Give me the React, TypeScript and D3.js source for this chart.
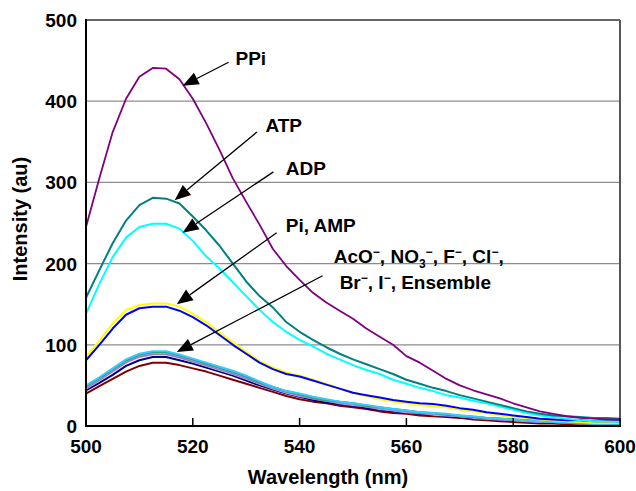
import React from "react";
import * as d3 from "d3";

const wavelengths = [500,502.5,505,507.5,510,512.5,515,517.5,520,522.5,525,527.5,530,532.5,535,537.5,540,542.5,545,547.5,550,552.5,555,557.5,560,562.5,565,567.5,570,572.5,575,577.5,580,582.5,585,587.5,590,592.5,595,597.5,600];

const ppi = [245,305,362,403,430,441,440,427,403,373,340,305,276,248,218,197,180,164,152,142,132,120,110,100,86,78,68,58,50,44,39,34,28,23,18,15,12,10,9,8,8];
const atp = [158,192,225,253,272,281,280,274,258,241,222,200,178,160,146,128,116,106,97,89,82,76,70,64,57,52,47,43,38,34,30,26,22,18,15,13,12,11,10,10,9];
const adp = [138,175,208,232,245,249,249,243,228,209,194,177,160,143,128,116,106,98,89,82,75,69,64,57,52,47,43,38,35,31,28,24,20,16,13,11,9,7,6,6,5];
const pi = [85,105,126,143,149,151,151,147,138,128,115,103,91,80,72,66,62,57,52,46,41,37,33,30,28,26,24,23,20,18,16,13,11,10,8,7,6,5,4,4,4];
const amp = [81,100,120,137,145,147,147,142,134,124,112,100,89,78,70,64,61,56,51,46,41,38,35,32,30,28,27,25,22,20,17,15,13,11,9,8,7,7,6,6,6];
const aco = [50,60,71,82,89,92,92,88,83,78,73,68,62,55,48,43,40,36,33,30,28,26,23,21,19,17,16,15,13,12,10,9,8,7,6,5,5,4,3,3,3];
const no3 = [49,59,70,81,88,91,91,87,82,77,72,67,61,54,48,43,39,35,32,30,28,25,23,21,19,17,16,14,13,11,10,9,8,7,6,5,4,4,3,3,2];
const fl = [48,58,69,80,87,90,90,86,81,76,71,66,60,54,48,43,39,35,32,29,27,25,22,20,18,17,15,14,12,11,10,9,8,7,6,5,4,4,3,3,3];
const cl = [47,57,68,79,86,89,89,85,80,75,70,65,59,53,47,42,38,34,31,29,27,24,22,20,18,16,15,14,12,11,10,9,8,7,6,5,4,3,3,3,2];
const br = [46,56,67,78,85,88,88,84,79,74,69,64,58,52,46,41,37,34,31,28,26,24,21,19,17,16,14,13,12,10,9,8,7,6,5,5,4,3,3,2,2];
const iodide = [44,53,63,74,81,85,85,81,77,72,67,62,56,50,45,40,36,32,29,27,25,22,20,18,17,15,14,12,11,10,9,8,7,6,5,4,4,3,3,2,2];
const ensemble = [40,49,58,67,74,78,78,75,71,67,62,57,52,47,42,37,33,30,28,25,23,21,18,16,15,13,12,11,10,8,7,6,5,4,3,3,2,2,2,1,1];

const seriesList = [
  { name: "Ensemble", values: ensemble, color: "#800000", w: 2 },
  { name: "I-", values: iodide, color: "#000080", w: 2 },
  { name: "Br-", values: br, color: "#CC99FF", w: 2 },
  { name: "Cl-", values: cl, color: "#808080", w: 2 },
  { name: "F-", values: fl, color: "#9999FF", w: 2 },
  { name: "NO3-", values: no3, color: "#339966", w: 2 },
  { name: "AcO-", values: aco, color: "#33CCFF", w: 2 },
  { name: "Pi", values: pi, color: "#FFFF00", w: 2 },
  { name: "AMP", values: amp, color: "#0000FF", w: 2 },
  { name: "ADP", values: adp, color: "#00FFFF", w: 2 },
  { name: "ATP", values: atp, color: "#008080", w: 2 },
  { name: "PPi", values: ppi, color: "#800080", w: 1.8 },
];

const xTicks = [500, 520, 540, 560, 580, 600];
const yTicks = [0, 100, 200, 300, 400, 500];

// annotations in data units
const annotations = [
  { key: "ppi", tx: 528, ty: 444, sx: 526.7, sy: 448, ex: 518.1, ey: 419 },
  { key: "atp", tx: 533.6, ty: 362, sx: 532, sy: 362, ex: 516.6, ey: 278 },
  { key: "adp", tx: 537.4, ty: 309, sx: 535.1, sy: 313, ex: 518.1, ey: 238 },
  { key: "pi", tx: 537.4, ty: 239, sx: 535.7, sy: 238, ex: 517, ey: 150 },
  { key: "anions", tx: 546.4, ty: 200.7, sx: 544.3, sy: 185, ex: 517, ey: 91 },
];

const FONT = "'Liberation Sans', Arial, Helvetica, sans-serif";

export default function App() {
  const W = 636, H = 491;
  const left = 86, right = 620, top = 20, bottom = 426;
  const x = d3.scaleLinear().domain([500, 600]).range([left, right]);
  const y = d3.scaleLinear().domain([0, 500]).range([bottom, top]);
  const line = d3.line<number>().x((_, i) => x(wavelengths[i])).y((v) => y(v));

  const arrow = (sx: number, sy: number, ex: number, ey: number) => {
    const x1 = x(sx), y1 = y(sy), x2 = x(ex), y2 = y(ey);
    const dx = x2 - x1, dy = y2 - y1;
    const len = Math.hypot(dx, dy);
    const ux = dx / len, uy = dy / len;
    const hl = 16, hw = 6.5;
    const bx = x2 - ux * hl, by = y2 - uy * hl;
    const px = -uy, py = ux;
    const pts = `${x2},${y2} ${bx + px * hw},${by + py * hw} ${bx - px * hw},${by - py * hw}`;
    return (
      <g>
        <line x1={x1} y1={y1} x2={bx} y2={by} stroke="#000" strokeWidth={1.3} />
        <polygon points={pts} fill="#000" />
      </g>
    );
  };

  const fs = 19;
  const sup = (t: string) => (
    <tspan dy={-7} fontSize={12}>{t}</tspan>
  );

  return (
    <svg width={W} height={H} style={{ position: "absolute", left: 0, top: 0, background: "#fff" }} fontFamily={FONT} fontWeight="bold">
      <rect x={0} y={0} width={W} height={H} fill="#fff" />
      {yTicks.filter((t) => t > 0 && t < 500).map((t) => (
        <line key={t} x1={left} x2={right} y1={y(t)} y2={y(t)} stroke="#8c8c8c" strokeWidth={1.2} />
      ))}
      <line x1={left} x2={right} y1={top} y2={top} stroke="#333" strokeWidth={1.6} />
      <line x1={right} x2={right} y1={top} y2={bottom} stroke="#555" strokeWidth={2} />
      {seriesList.map((s) => (
        <path key={s.name} d={line(s.values) || ""} fill="none" stroke={s.color} strokeWidth={s.w} strokeLinejoin="round" />
      ))}
      <line x1={left} x2={left} y1={top - 1} y2={bottom + 1} stroke="#000" strokeWidth={2} />
      <line x1={left - 1} x2={right + 1} y1={bottom} y2={bottom} stroke="#000" strokeWidth={2} />
      {xTicks.map((t) => (
        <g key={t}>
          <line x1={x(t)} x2={x(t)} y1={bottom} y2={bottom - 8} stroke="#000" strokeWidth={1.5} />
          <text x={x(t)} y={453} textAnchor="middle" fontSize={fs}>{t}</text>
        </g>
      ))}
      {yTicks.map((t) => (
        <text key={t} x={77} y={y(t) + 7} textAnchor="end" fontSize={fs}>{t}</text>
      ))}
      <text x={328} y={484} textAnchor="middle" fontSize={20}>Wavelength (nm)</text>
      <text transform={`translate(27,219) rotate(-90)`} textAnchor="middle" fontSize={20}>Intensity (au)</text>

      {annotations.map((a) => <g key={a.key}>{arrow(a.sx, a.sy, a.ex, a.ey)}</g>)}

      <text x={x(annotations[0].tx)} y={y(annotations[0].ty)} fontSize={fs}>PPi</text>
      <text x={x(annotations[1].tx)} y={y(annotations[1].ty)} fontSize={fs}>ATP</text>
      <text x={x(annotations[2].tx)} y={y(annotations[2].ty)} fontSize={fs}>ADP</text>
      <text x={x(annotations[3].tx)} y={y(annotations[3].ty)} fontSize={fs}>Pi, AMP</text>
      <text x={x(annotations[4].tx)} y={y(annotations[4].ty)} fontSize={fs}>
        <tspan>AcO</tspan>{sup("−")}<tspan dy={7}>, NO</tspan>
        <tspan dy={5} fontSize={12}>3</tspan>
        <tspan dy={-12} fontSize={12}>−</tspan>
        <tspan dy={7}>, F</tspan>{sup("−")}<tspan dy={7}>, Cl</tspan>{sup("−")}<tspan dy={7}>,</tspan>
      </text>
      <text x={x(547.5)} y={y(168.7)} fontSize={fs}>
        <tspan>Br</tspan>{sup("−")}<tspan dy={7}>, I</tspan>{sup("−")}<tspan dy={7}>, Ensemble</tspan>
      </text>
    </svg>
  );
}
